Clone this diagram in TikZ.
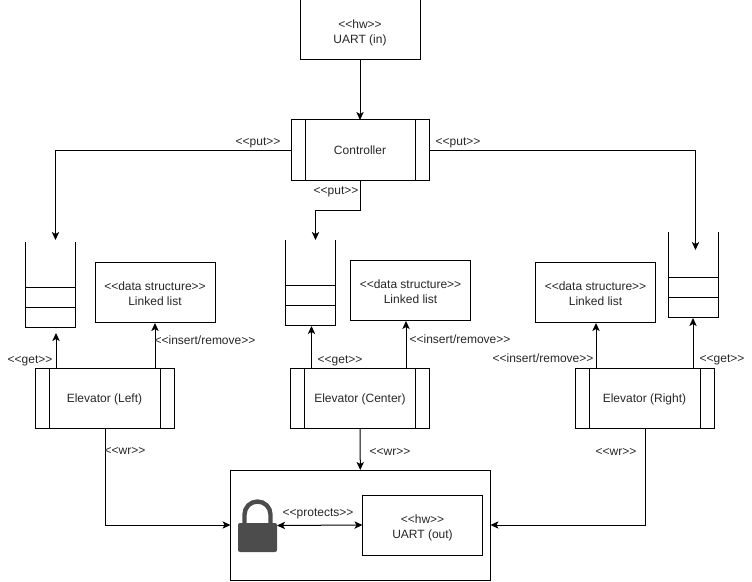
\documentclass[tikz,border=0pt]{standalone}
\usepackage{fontspec}
\setmainfont{Liberation Sans}
\usetikzlibrary{arrows.meta}

\begin{document}
\begin{tikzpicture}[
        x = 0.75pt,
        y = -0.75pt,
        every node/.append style={
          font = \fontsize{9pt}{10.75pt}\selectfont,
          text = black!85,
          outer sep = 0pt,
          inner sep = 0pt,
          align = center,
          text height = 8.5pt,
          text depth = 1.8pt,
        },
        line width = 0.75pt,
        link/.style={
          -{Stealth[length = 6pt, width = 5.5pt, inset = 1.5pt]},
        },
        twoway/.style={
          {Stealth[length = 6pt, width = 5.5pt, inset = 1.5pt]}-{Stealth[length = 6pt, width = 5.5pt, inset = 1.5pt]},
        },
        block/.style={
          draw,
          minimum width = 90pt,
          minimum height = 45pt,
          text height = 21.5pt,
        },
        process/.style={
          draw,
          minimum width = 104.25pt,
          minimum height = 45pt,
          path picture={
            \draw ([xshift = 10.5pt]path picture bounding box.north west) -- ([xshift = 10.5pt]path picture bounding box.south west);
            \draw ([xshift = -10.5pt]path picture bounding box.north east) -- ([xshift = -10.5pt]path picture bounding box.south east);
          },
        },
        queue/.style={
          minimum width = 37.5pt,
          minimum height = 63.75pt,
        },
        tag/.style={
          text = black!85,
        },
        ]
        \useasboundingbox (0,0) rectangle (752,581);

        \node [block] (uartin) at (360,30) {<{}<hw>{}>\\UART (in)};
        \node [process, minimum width = 103.5pt] (controller) at (360,150) {Controller};

        \node [queue] (queueleft) at (50.5,284.5) {};
        \node [queue] (queuecenter) at (310.5,282.5) {};
        \node [queue] (queueright) at (693,274.5) {};
        \foreach \q in {queueleft, queuecenter, queueright} {
          \draw (\q.north west) -- (\q.south west) -- (\q.south east) -- (\q.north east);
          \draw ([yshift = 15pt]\q.south west) -- ([yshift = 15pt]\q.south east);
          \draw ([yshift = 30pt]\q.south west) -- ([yshift = 30pt]\q.south east);
        }

        \node [block] (listleft) at (155,292) {<{}<data structure>{}>\\Linked list};
        \node [block] (listcenter) at (410.5,290) {<{}<data structure>{}>\\Linked list};
        \node [block] (listright) at (595.5,292) {<{}<data structure>{}>\\Linked list};

        \node [process] (elevleft) at (104.5,398) {Elevator (Left)};
        \node [process] (elevcenter) at (360,398) {Elevator (Center)};
        \node [process] (elevright) at (644.5,398) {Elevator (Right)};

        \node [draw, minimum width = 195pt, minimum height = 82.5pt] (guard) at (360.5,525) {};
        \node [block] (uartout) at (422.5,525) {<{}<hw>{}>\\UART (out)};
        \node [minimum width = 29.25pt, minimum height = 39.75pt] (lock) at (257.5,525.5) {};
        \fill [black!70, rounded corners = 1.5pt] (lock.west |- 0,523) rectangle (lock.east |- 0,552);
        \draw [black!70, line width = 3.3pt] (244.5,524) -- (244.5,514.5) arc [start angle = 180, end angle = 0, x radius = 9.75pt, y radius = 9.75pt] -- (270.5,524);

        \coordinate (putleft) at (55.5,240);
        \coordinate (putcenter) at (315.5,240);
        \coordinate (putright) at (695.5,250);
        \coordinate (getleft) at (56,333);
        \coordinate (getcenter) at (311.5,326);
        \coordinate (getright) at (693,318);
        \coordinate (insleft) at (155,323);
        \coordinate (inscenter) at (406,321);
        \coordinate (insright) at (596,323);
        \coordinate (wrleft) at (105,428);
        \coordinate (wrright) at (645,428);

        \draw [link] (uartin) -- (controller);
        \draw [link] (controller.west) -| (putleft);
        \draw [link] (controller.east) -| (putright);
        \draw [link] (controller.south) -- (360,210) -| (putcenter);
        \draw [link] (elevleft.north -| getleft) -- (getleft);
        \draw [link] (elevleft.north -| insleft) -- (insleft);
        \draw [link] (elevcenter.north -| getcenter) -- (getcenter);
        \draw [link] (elevcenter.north -| inscenter) -- (inscenter);
        \draw [link] (elevright.north -| insright) -- (insright);
        \draw [link] (elevright.north -| getright) -- (getright);
        \draw [link] (wrleft) |- (guard.west);
        \draw [link] (elevcenter) -- (guard);
        \draw [link] (wrright) |- (guard.east);
        \draw [twoway] (lock.east) -- (uartout.west);

        \node [tag] (tagputleft) at (258,141) {<{}<put>{}>};
        \node [tag] (tagputright) at (458,141) {<{}<put>{}>};
        \node [tag] (tagputcenter) at (336,190) {<{}<put>{}>};
        \node [tag] (taggetleft) at (30,359) {<{}<get>{}>};
        \node [tag] (taggetcenter) at (340,359) {<{}<get>{}>};
        \node [tag] (taggetright) at (722,358) {<{}<get>{}>};
        \node [tag] (taginsleft) at (205,340) {<{}<insert/remove>{}>};
        \node [tag] (taginscenter) at (460,339) {<{}<insert/remove>{}>};
        \node [tag] (taginsright) at (543,358) {<{}<insert/remove>{}>};
        \node [tag] (tagwrleft) at (125,450) {<{}<wr>{}>};
        \node [tag] (tagwrcenter) at (390,451) {<{}<wr>{}>};
        \node [tag] (tagwrright) at (616,451) {<{}<wr>{}>};
        \node [tag] (tagprotects) at (318,512) {<{}<protects>{}>};
      \end{tikzpicture}
\end{document}
